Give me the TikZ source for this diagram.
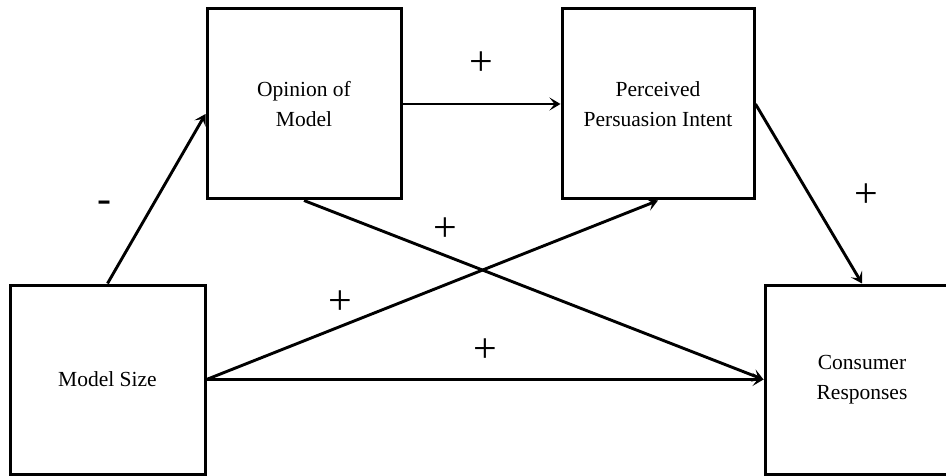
\documentclass[tikz,border=0pt]{standalone}
\usepackage{fontspec}
\setmainfont{Liberation Serif}
\usetikzlibrary{arrows.meta}
\tikzstyle{varbox} = [draw=black, line width=3pt, fill=white,
    rectangle, align=center, font=\fontsize{21.5}{30}\selectfont]
\tikzstyle{path} = [line width=2.9pt, -{Stealth[length=11pt, width=13pt, inset=5pt]}]
\tikzstyle{sign} = [font=\fontsize{42}{42}\selectfont, inner sep=0pt]

\begin{document}
\begin{tikzpicture}[x=1pt, y=-1pt]
                \useasboundingbox (0,0) rectangle (946,476);
                \node [varbox, minimum width=195pt, minimum height=189pt] (size) at (107.5,379.5) {Model Size};
                \node [varbox, minimum width=194pt, minimum height=190pt] (opinion) at (304,104) {Opinion of\\Model};
                \node [varbox, minimum width=192pt, minimum height=190pt] (intent) at (658,104) {Perceived\\Persuasion Intent};
                \node [varbox, minimum width=194pt, minimum height=189pt] (responses) at (862,379.5) {Consumer\\Responses};

                \draw [path] (size.north) -- ([yshift=-10pt]opinion.west);
                \draw [path] (opinion.east) -- (intent.west);
                \draw [path] (intent.east) -- (responses.north);
                \draw [path] (opinion.south) -- (responses.west);
                \draw [path] (size.east) -- (responses.west);
                \draw [path] (size.east) -- (intent.south);

                \node [sign] (minus) at (104,207) {-};
                \node [sign] (plustop) at (481,64) {+};
                \node [sign] (plusright) at (866,196) {+};
                \node [sign] (pluscross) at (445,230) {+};
                \node [sign] (plusup) at (340,303) {+};
                \node [sign] (plusdirect) at (485,351) {+};
            \end{tikzpicture}
\end{document}
